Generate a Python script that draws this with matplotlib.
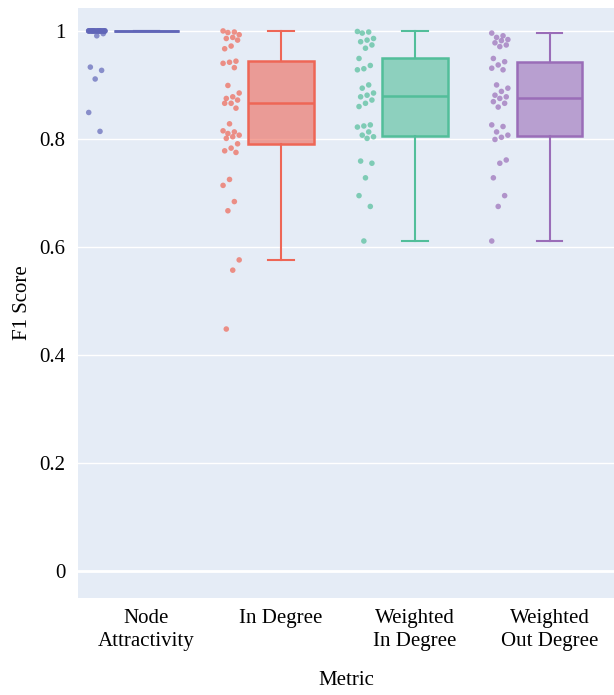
import numpy as np
import matplotlib
matplotlib.use("Agg")
import matplotlib.pyplot as plt

plt.rcParams['font.family'] = ['Liberation Serif', 'DejaVu Serif']

categories = ["Node\nAttractivity", "In Degree", "Weighted\nIn Degree", "Weighted\nOut Degree"]
colors = ["#6166B8", "#EE6656", "#52BE9A", "#9A6DB8"]

# individual F1 scores
node_attr = [1.0] * 28 + [0.995, 0.991, 0.933, 0.927, 0.911, 0.849, 0.814]
in_degree = [1.0, 0.998, 0.997, 0.993, 0.988, 0.986, 0.983, 0.972, 0.967,
             0.944, 0.942, 0.940, 0.932, 0.899, 0.885, 0.878, 0.875, 0.872,
             0.866, 0.866, 0.857, 0.828, 0.815, 0.813, 0.810, 0.807, 0.804,
             0.801, 0.791, 0.783, 0.778, 0.775, 0.725, 0.714, 0.684, 0.667,
             0.576, 0.557, 0.448]
w_in_degree = [0.999, 0.998, 0.996, 0.986, 0.983, 0.980, 0.974, 0.968, 0.949,
               0.936, 0.930, 0.928, 0.900, 0.894, 0.885, 0.881, 0.878, 0.872,
               0.866, 0.860, 0.826, 0.824, 0.822, 0.813, 0.807, 0.804, 0.801,
               0.759, 0.755, 0.728, 0.695, 0.675, 0.611]
w_out_degree = [0.996, 0.991, 0.988, 0.984, 0.982, 0.978, 0.974, 0.971, 0.949,
                0.943, 0.937, 0.931, 0.928, 0.900, 0.894, 0.888, 0.881, 0.878,
                0.875, 0.869, 0.866, 0.859, 0.826, 0.823, 0.813, 0.807, 0.803,
                0.799, 0.761, 0.755, 0.728, 0.695, 0.675, 0.611]

# box statistics as drawn in the figure
q1 = [1.0, 0.790, 0.806, 0.806]
medians = [1.0, 0.866, 0.880, 0.875]
q3 = [1.0, 0.944, 0.949, 0.943]
whisk_lo = [1.0, 0.576, 0.611, 0.611]
whisk_hi = [1.0, 1.0, 1.0, 0.996]

yticks = [0, 0.2, 0.4, 0.6, 0.8, 1.0]
ytick_labels = ["0", "0.2", "0.4", "0.6", "0.8", "1"]

fig = plt.figure(figsize=(6.14, 6.95), dpi=100)
ax = fig.add_axes([0.127, 0.1396, 0.873, 0.849])
ax.set_facecolor("#E5ECF6")

all_points = [node_attr, in_degree, w_in_degree, w_out_degree]
for i, (pts, c) in enumerate(zip(all_points, colors)):
    stats = [dict(med=medians[i], q1=q1[i], q3=q3[i],
                  whislo=whisk_lo[i], whishi=whisk_hi[i], fliers=[])]
    ax.bxp(stats, positions=[i], widths=0.49, patch_artist=True,
           showfliers=False,
           boxprops=dict(facecolor=matplotlib.colors.to_rgba(c, 0.6), edgecolor=c, linewidth=1.8),
           medianprops=dict(color=c, linewidth=1.8),
           whiskerprops=dict(color=c, linewidth=1.5),
           capprops=dict(color=c, linewidth=1.5),
           capwidths=0.19, zorder=3)
    n = len(pts)
    # deterministic jitter pattern
    jit = np.array([((k * 7) % 11 - 5) / 5.0 for k in range(n)]) * 0.06
    ax.scatter(i - 0.37 + jit, pts, s=16, color=c, alpha=0.7,
               edgecolors="none", zorder=4)

ax.set_xlim(-0.51, 3.48)
ax.set_ylim(-0.05, 1.0426)
ax.set_xticks(range(len(categories)))
ax.set_xticklabels(categories, fontsize=15, linespacing=1.3)
ax.set_yticks(yticks)
ax.set_yticklabels(ytick_labels, fontsize=15)
ax.tick_params(length=0, pad=9)
ax.tick_params(axis="x", pad=8)
ax.grid(axis="y", color="white", linewidth=1.0, zorder=0)
ax.axhline(0, color="white", linewidth=2, zorder=1)
ax.set_axisbelow(True)
for s in ax.spines.values():
    s.set_visible(False)

ax.set_xlabel("Metric", fontsize=15, labelpad=14)
ax.set_ylabel("F1 Score", fontsize=15, labelpad=5)

fig.savefig("out.png", dpi=100)
